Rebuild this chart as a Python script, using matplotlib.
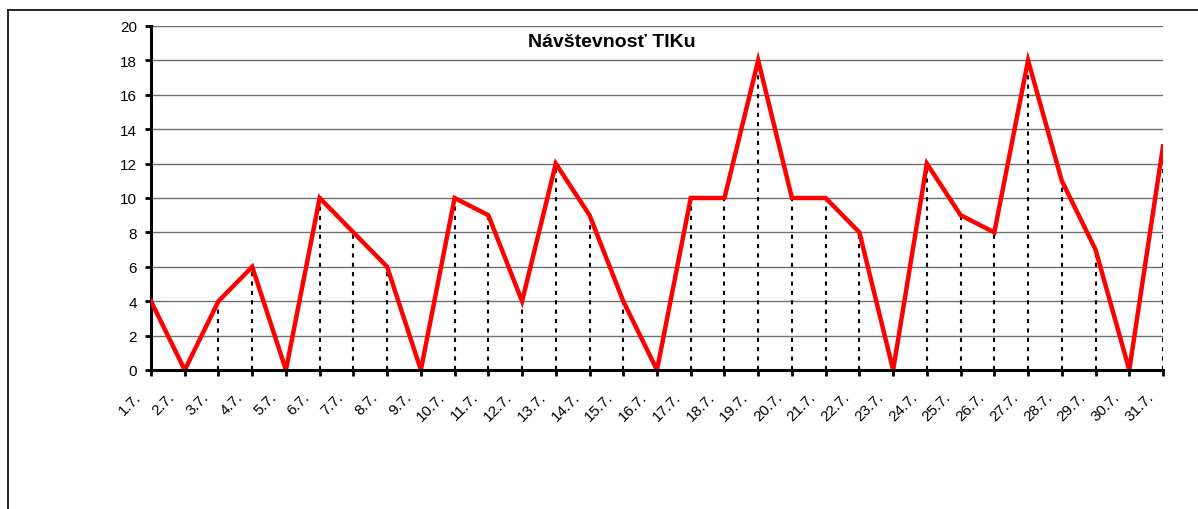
#!/usr/bin/env python3

import matplotlib
matplotlib.use('Agg')
import matplotlib.pyplot as plt
import matplotlib.transforms as mtransforms
from matplotlib.lines import Line2D

plt.rcParams['font.family'] = ['Liberation Sans', 'DejaVu Sans']

days = [f'{d}.7.' for d in range(1, 32)]
visits = [4, 0, 4, 6, 0, 10, 8, 6, 0, 10, 9, 4, 12, 9, 4, 0,
          10, 10, 18, 10, 10, 8, 0, 12, 9, 8, 18, 11, 7, 0, 13]

fig = plt.figure(figsize=(11.98, 5.10), dpi=100)
ax = fig.add_axes([151 / 1198, 1 - 371 / 510, (1163 - 151) / 1198, (371 - 27) / 510])

x = list(range(len(days)))

# grid
for yv in range(2, 21, 2):
    ax.axhline(yv, color='#707070', linewidth=1.0, zorder=1)

# drop lines
ax.vlines(x, 0, visits, colors='black', linestyles=(0, (2, 2.5)), linewidth=1.5, zorder=2)

ax.plot(x, visits, color='#ff0000', linewidth=3.2, zorder=3, solid_joinstyle='miter')

ax.set_xlim(0, len(days) - 1)
ax.set_ylim(0, 20)
ax.set_yticks(range(0, 21, 2))
ax.set_xticks(x)
ax.set_xticklabels(days, rotation=45, ha='right', rotation_mode='anchor')
ax.tick_params(axis='both', direction='out', length=4, width=2, labelsize=11, colors='black')
ax.tick_params(axis='x', pad=10)
ax.tick_params(axis='y', pad=6)

shift = mtransforms.ScaledTranslation(-17 / 100, 0, fig.dpi_scale_trans)
for lbl in ax.get_xticklabels():
    lbl.set_transform(lbl.get_transform() + shift)

for side in ['top', 'right']:
    ax.spines[side].set_visible(False)
for side in ['left', 'bottom']:
    ax.spines[side].set_linewidth(2.2)
ax.spines['bottom'].set_zorder(4)

ax.text(0.455, 0.955, 'Návštevnosť TIKu', transform=ax.transAxes, ha='center', va='center',
        fontsize=14, fontweight='bold')

# outer frame (clipped at right/bottom)
y_top = 1 - 11 / 510
x_left = 8 / 1198
fig.add_artist(Line2D([x_left, x_left], [0, y_top], color='black', linewidth=1.2, transform=fig.transFigure))
fig.add_artist(Line2D([x_left, 1], [y_top, y_top], color='black', linewidth=1.2, transform=fig.transFigure))

plt.savefig('out.png', dpi=100)
